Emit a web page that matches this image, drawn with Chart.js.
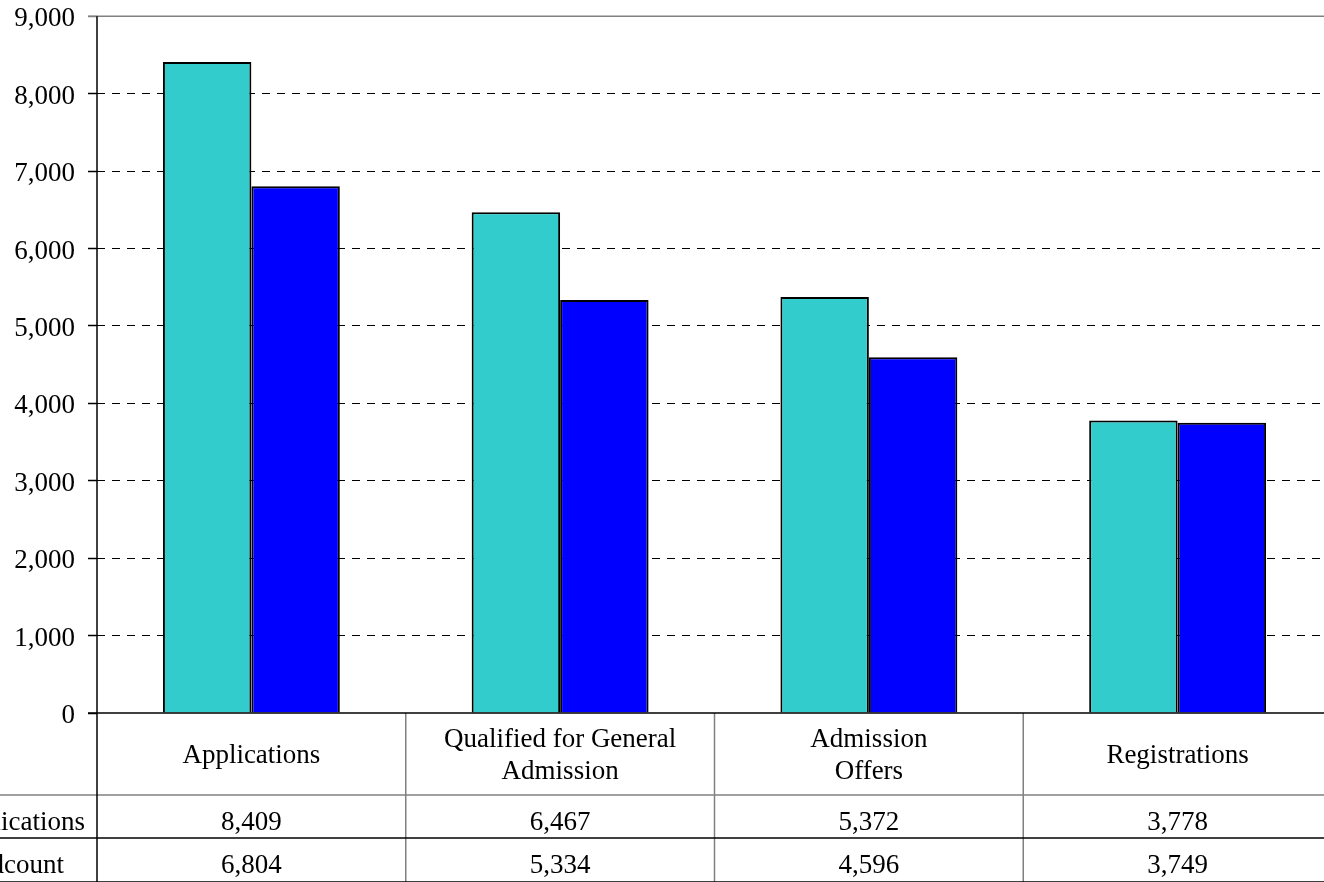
<!DOCTYPE html>
<html>
<head>
<meta charset="utf-8">
<script src="https://cdn.jsdelivr.net/npm/chart.js@4/dist/chart.umd.min.js"></script>
<style>
  html, body { margin:0; padding:0; background:#fff; overflow:hidden; width:1324px; height:882px; }
  #wrap { position:absolute; left:-100px; top:-13px; width:1440px; height:900px; }
</style>
</head>
<body>
<div id="wrap"><canvas id="c" width="1440" height="900"></canvas></div>
<script>
const categories = [["Applications"], ["Qualified for General", "Admission"], ["Admission", "Offers"], ["Registrations"]];
const seriesNames = ["Applications", "Headcount"];
const applications = [8409, 6467, 5372, 3778];
const headcount = [6804, 5334, 4596, 3749];
const yTicks = [0, 1000, 2000, 3000, 4000, 5000, 6000, 7000, 8000, 9000];

const FONT = '"Liberation Serif", "Times New Roman", serif';
const FS = 27;

function fmt(v) { return v.toLocaleString('en-US'); }

const tablePlugin = {
  id: 'dataTable',
  afterDraw(chart) {
    const {ctx, chartArea} = chart;
    const x = chart.scales.x;
    const W = chart.width;
    const top = chartArea.bottom;
    const r0 = top + 82;
    const r1 = r0 + 43;
    const r2 = r1 + 44;
    const seg = (x1, y1, x2, y2, color, w) => {
      ctx.beginPath(); ctx.strokeStyle = color; ctx.lineWidth = w;
      ctx.moveTo(x1, y1); ctx.lineTo(x2, y2); ctx.stroke();
    };
    ctx.save();
    seg(chartArea.left - 9, chartArea.top, W, chartArea.top, '#808080', 1.5);
    for (let i = 1; i < categories.length; i++) {
      const xx = (x.getPixelForValue(i - 1) + x.getPixelForValue(i)) / 2;
      seg(xx, top, xx, r2, '#808080', 1.5);
    }
    seg(0, r0, W, r0, '#808080', 1.5);
    seg(0, r1, W, r1, '#000', 1.3);
    seg(0, r2, W, r2, '#000', 1.3);
    seg(chartArea.left - 9, top, W, top, '#000', 1.5);
    seg(chartArea.left, chartArea.top, chartArea.left, r2, '#000', 1.5);

    ctx.fillStyle = '#000';
    ctx.font = FS + 'px ' + FONT;
    ctx.textBaseline = 'alphabetic';
    ctx.textAlign = 'center';
    categories.forEach((lab, i) => {
      const cx = x.getPixelForValue(i);
      if (lab.length === 1) {
        ctx.fillText(lab[0], cx, top + 50);
      } else {
        ctx.fillText(lab[0], cx, top + 34);
        ctx.fillText(lab[1], cx, top + 66);
      }
      ctx.fillText(fmt(applications[i]), cx, r0 + 35);
      ctx.fillText(fmt(headcount[i]), cx, r1 + 35);
    });
    ctx.textAlign = 'left';
    ctx.fillText(seriesNames[0], chartArea.left - 150, r0 + 35);
    ctx.fillText(seriesNames[1], chartArea.left - 150, r1 + 35);
    ctx.restore();
  }
};

new Chart(document.getElementById('c'), {
  type: 'bar',
  data: {
    labels: categories.map(c => c.join(' ')),
    datasets: [
      { label: seriesNames[0], data: applications, backgroundColor: '#33CCCC', borderColor: '#000', borderWidth: 2 },
      { label: seriesNames[1], data: headcount, backgroundColor: '#0000FF', borderColor: '#000', borderWidth: 2 }
    ]
  },
  options: {
    responsive: false,
    animation: false,
    devicePixelRatio: 1,
    layout: { padding: { top: 3, right: 8, left: 0, bottom: 0 } },
    datasets: { bar: { categoryPercentage: 0.573, barPercentage: 1.0 } },
    plugins: { legend: { display: false }, tooltip: { enabled: false } },
    scales: {
      x: {
        ticks: { display: false },
        grid: { display: false },
        border: { display: false },
        afterFit(scale) { scale.height = 174; }
      },
      y: {
        min: 0, max: 9000,
        afterBuildTicks(scale) { scale.ticks = yTicks.map(v => ({ value: v })); },
        afterFit(scale) { scale.width = 197; },
        ticks: {
          color: '#000',
          padding: 13,
          labelOffset: 3,
          font: { family: FONT, size: FS },
          callback: v => fmt(v)
        },
        grid: {
          color: ctx => (ctx.tick && (ctx.tick.value === 0 || ctx.tick.value === 9000)) ? 'rgba(0,0,0,0)' : '#000',
          lineWidth: 1,
          tickLength: 9,
          tickColor: ctx => (ctx.tick && ctx.tick.value === 9000) ? '#808080' : '#000',
          tickWidth: 1.5
        },
        border: { display: false, dash: [8, 7] }
      }
    }
  },
  plugins: [tablePlugin]
});
</script>
</body>
</html>
